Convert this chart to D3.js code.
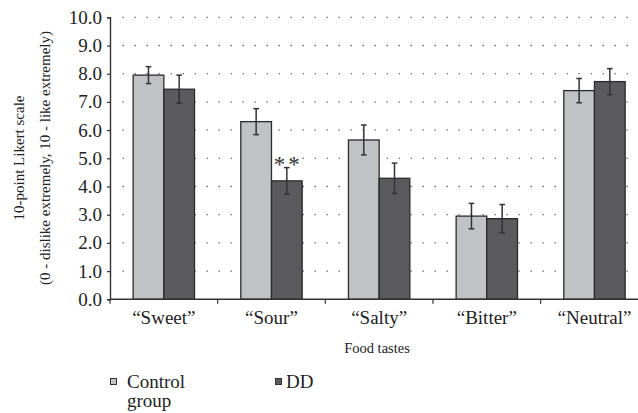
<!DOCTYPE html>
<html><head><meta charset="utf-8">
<script src="https://cdn.jsdelivr.net/npm/d3@7"></script>
<style>
html,body{margin:0;padding:0;background:#fff;}
svg{display:block;}
svg text{font-family:"Liberation Serif","DejaVu Serif",serif !important;}
</style></head>
<body>
<svg id="chart" width="638" height="413"></svg>
<script>
const categories = ["“Sweet”", "“Sour”", "“Salty”", "“Bitter”", "“Neutral”"];
const seriesNames = ["Control group", "DD"];
const controlValues = [7.95, 6.30, 5.65, 2.95, 7.40];
const controlErrors = [0.30, 0.46, 0.53, 0.45, 0.43];
const ddValues = [7.45, 4.20, 4.29, 2.86, 7.72];
const ddErrors = [0.50, 0.47, 0.54, 0.50, 0.46];
const yTicks = [0, 1, 2, 3, 4, 5, 6, 7, 8, 9, 10];
const significance = [null, "**", null, null, null];

const colors = ["#c1c2c6", "#5b5b5d"];
const svg = d3.select("#chart");

const x = d3.scaleBand().domain(categories).range([110, 648.3]).padding(0);
const x1 = d3.scaleBand().domain(seriesNames).range([x.bandwidth()*0.215, x.bandwidth()*0.785]).padding(0);
const y = d3.scaleLinear().domain([0, 10]).range([299.3, 17.3]);

// dotted grid
svg.append("g").selectAll("line").data(yTicks.filter(d => d > 0)).join("line")
  .attr("x1", 122.5).attr("x2", 630)
  .attr("y1", d => y(d)).attr("y2", d => y(d))
  .attr("stroke", "#555").attr("stroke-width", 1.3)
  .attr("stroke-dasharray", "1.3,10.7");

const series = [
  {name: seriesNames[0], values: controlValues, errors: controlErrors, color: colors[0]},
  {name: seriesNames[1], values: ddValues, errors: ddErrors, color: colors[1]}
];

const bars = svg.append("g");
series.forEach(s => {
  bars.append("g").selectAll("rect").data(categories).join("rect")
    .attr("x", (c) => x(c) + x1(s.name))
    .attr("width", x1.bandwidth())
    .attr("y", (c, i) => y(s.values[i]))
    .attr("height", (c, i) => y(0) - y(s.values[i]))
    .attr("fill", s.color)
    .attr("stroke", "#2a2a2a").attr("stroke-width", 1.3);
});
series.forEach(s => {
  const g = bars.append("g").attr("stroke", "#333").attr("stroke-width", 1.5);
  categories.forEach((c, i) => {
    const cx = x(c) + x1(s.name) + x1.bandwidth()/2;
    const top = y(s.values[i] + s.errors[i]), bot = y(s.values[i] - s.errors[i]);
    g.append("line").attr("x1", cx).attr("x2", cx).attr("y1", top).attr("y2", bot);
    g.append("line").attr("x1", cx-2.8).attr("x2", cx+2.8).attr("y1", top).attr("y2", top);
    g.append("line").attr("x1", cx-2.8).attr("x2", cx+2.8).attr("y1", bot).attr("y2", bot);
  });
});

// significance marks
categories.forEach((c, i) => {
  if (!significance[i]) return;
  const cx = x(c) + x1(seriesNames[1]) + x1.bandwidth()/2;
  svg.append("text").attr("x", cx + 1.5).attr("y", y(ddValues[i] + ddErrors[i]) + 4)
    .attr("text-anchor", "middle").attr("font-size", 23).attr("fill", "#333")
    .attr("letter-spacing", 3)
    .text(significance[i]);
});

// y axis
const yAxis = svg.append("g").attr("transform", "translate(110,0)")
  .call(d3.axisLeft(y).tickValues(yTicks).tickFormat(d3.format(".1f")).tickSize(3).tickPadding(5));
yAxis.select(".domain").attr("stroke", "#333").attr("stroke-width", 1.4);
yAxis.selectAll(".tick line").attr("stroke", "#333").attr("stroke-width", 1.2);
yAxis.selectAll("text").attr("font-size", 19).attr("fill", "#222");

// x axis
const xg = svg.append("g");
xg.append("line").attr("x1", 110).attr("x2", 638).attr("y1", y(0)).attr("y2", y(0))
  .attr("stroke", "#333").attr("stroke-width", 1.4);
xg.selectAll("line.tk").data(categories).join("line").attr("class", "tk")
  .attr("x1", c => x(c)).attr("x2", c => x(c))
  .attr("y1", y(0)).attr("y2", y(0) + 4.5)
  .attr("stroke", "#333").attr("stroke-width", 1.2);
xg.selectAll("text").data(categories).join("text")
  .attr("x", c => x(c) + x.bandwidth()/2).attr("y", y(0) + 25)
  .attr("text-anchor", "middle").attr("font-size", 19).attr("fill", "#222")
  .text(c => c);

// axis titles
svg.append("text").attr("x", 377).attr("y", 353).attr("text-anchor", "middle")
  .attr("font-size", 14.5).attr("fill", "#222").text("Food tastes");
const yt = svg.append("text").attr("transform", "translate(0,158) rotate(-90)")
  .attr("text-anchor", "middle").attr("font-size", 15).attr("fill", "#222");
yt.append("tspan").attr("x", 0).attr("y", 24).text("10-point Likert scale");
yt.append("tspan").attr("x", 0).attr("y", 50).text("(0 - dislike extremely, 10 - like extremely)");

// legend
const legendX = [110, 275];
series.forEach((s, i) => {
  const g = svg.append("g").attr("transform", `translate(${legendX[i]},0)`);
  g.append("rect").attr("x", 0.5).attr("y", 378.5).attr("width", 6).attr("height", 6)
    .attr("fill", s.color).attr("stroke", "#333").attr("stroke-width", 1);
  const words = s.name.split(" ");
  words.forEach((w, k) => g.append("text").attr("font-size", 19).attr("fill", "#222")
    .attr("x", i === 0 ? 17 : 11).attr("y", 388 + k*19).text(w));
});
</script>
</body></html>
